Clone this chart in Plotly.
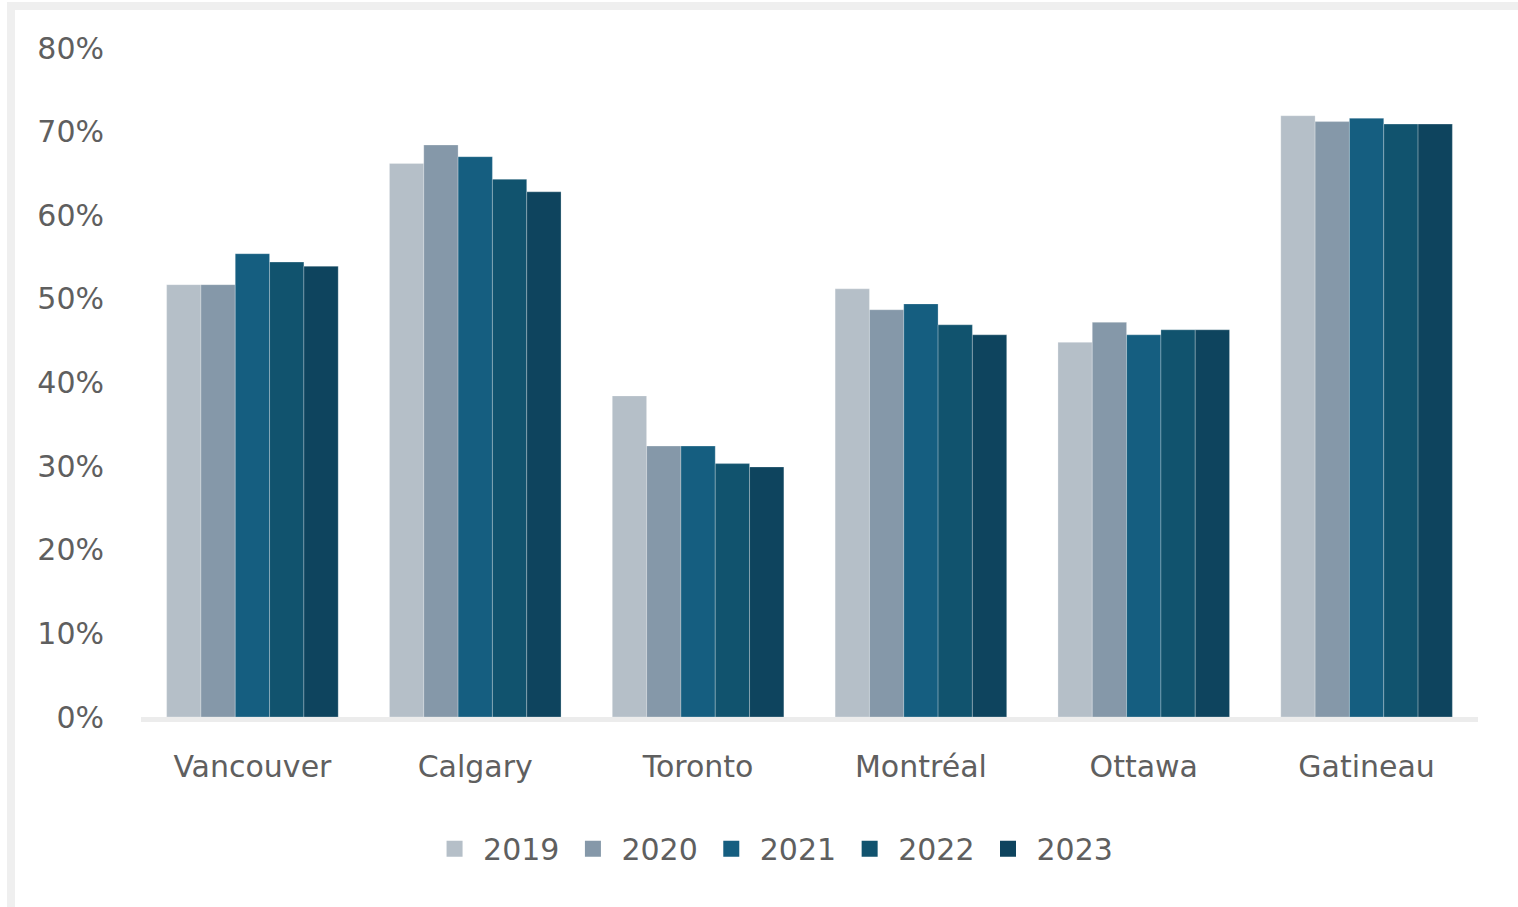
import plotly.graph_objects as go

cities = ["Vancouver", "Calgary", "Toronto", "Montréal", "Ottawa", "Gatineau"]
years = ["2019", "2020", "2021", "2022", "2023"]
v2019 = [51.7, 66.2, 38.4, 51.2, 44.8, 71.9]
v2020 = [51.7, 68.4, 32.4, 48.7, 47.2, 71.2]
v2021 = [55.4, 67.0, 32.4, 49.4, 45.7, 71.6]
v2022 = [54.4, 64.3, 30.3, 46.9, 46.3, 70.9]
v2023 = [53.9, 62.8, 29.9, 45.7, 46.3, 70.9]
series = [v2019, v2020, v2021, v2022, v2023]
colors = ["#b5bfc8", "#8598a9", "#155e80", "#11536e", "#0e445e"]

FONT = "DejaVu Sans"
TXT = "#5f5f5f"

fig = go.Figure()
for yr, vals, col in zip(years, series, colors):
    fig.add_trace(go.Bar(
        x=cities, y=vals, name=yr, marker_color=col,
        marker_line=dict(width=1, color="rgba(255,255,255,0.25)"),
        showlegend=False, legendgroup=yr,
    ))
for yr, col in zip(years, colors):
    fig.add_trace(go.Scatter(
        x=[None], y=[None], mode="markers", name=yr, legendgroup=yr,
        marker=dict(symbol="square", size=19, color=col),
        showlegend=True,
    ))

fig.update_layout(
    width=1518, height=907,
    margin=dict(l=141, r=40, t=48, b=190),
    paper_bgcolor="white", plot_bgcolor="white",
    barmode="group", bargap=0.23, bargroupgap=0,
    font=dict(family=FONT, size=30, color=TXT),
    legend=dict(orientation="h", x=0.472, xanchor="center", y=-0.197, yanchor="middle",
                font=dict(family=FONT, size=30, color=TXT), itemwidth=47,
                tracegroupgap=0),
    xaxis=dict(showgrid=False, showline=True, linecolor="#ececec", linewidth=5,
               ticks="", ticklabelstandoff=19, tickfont=dict(size=30, color=TXT)),
    yaxis=dict(range=[0, 80], dtick=10, ticksuffix="%", showgrid=False,
               zeroline=False, showline=False, ticks="", ticklabelstandoff=36,
               tickfont=dict(size=30, color=TXT)),
    shapes=[dict(type="rect", xref="paper", yref="paper",
                 x0=(11 - 141) / 1337, x1=(1540 - 141) / 1337,
                 y0=(717 - 940) / 669, y1=1 + (48 - 6) / 669,
                 line=dict(color="#efefef", width=8), layer="below")],
)

fig.write_html("out.html", config={"displayModeBar": False},
               post_script="document.body.style.margin='0';")
